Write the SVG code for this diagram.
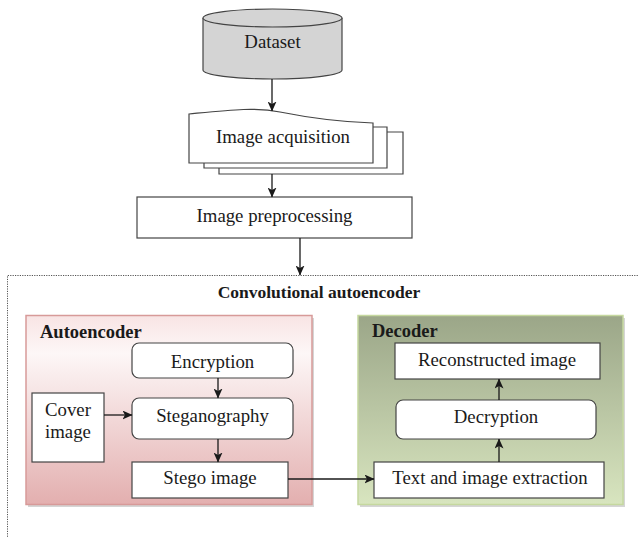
<svg xmlns="http://www.w3.org/2000/svg" width="639" height="537" viewBox="0 0 639 537">
<style>
text{font-family:"Liberation Serif","Times New Roman",serif;fill:#1a1a1a;text-anchor:middle}
.t{font-size:18.8px}
.b{font-size:18.5px;font-weight:bold}
.box{fill:#fff;stroke:#444;stroke-width:1.2}
.ln{fill:none;stroke:#1a1a1a;stroke-width:1.3}
</style>
<defs>
<marker id="ah" markerWidth="10" markerHeight="9" refX="9.5" refY="4.5" orient="auto" markerUnits="userSpaceOnUse">
<path d="M0,0 L10,4.5 L0,9 L2.5,4.5 Z" fill="#1a1a1a"/>
</marker>
<linearGradient id="pink" x1="0" y1="0" x2="0" y2="1">
<stop offset="0" stop-color="#f8e4e4"/>
<stop offset="0.2" stop-color="#fdf7f7"/>
<stop offset="1" stop-color="#e3afaf"/>
</linearGradient>
<linearGradient id="green" x1="0" y1="0" x2="0" y2="1">
<stop offset="0" stop-color="#9ba688"/>
<stop offset="1" stop-color="#d8e5bf"/>
</linearGradient>
</defs>

<g id="container">
<path d="M645,275.5 H7.5 V545" fill="none" stroke="#555" stroke-width="1" stroke-dasharray="1.2 1.2"/>
<text class="b" x="319" y="298" style="font-size:17.5px">Convolutional autoencoder</text>
</g>

<g id="autoencoder">
<rect x="28" y="318" width="286" height="189" fill="#b9b9b9" opacity="0.6"/>
<rect x="26" y="315.5" width="286" height="189" fill="url(#pink)" stroke="#d79a99" stroke-width="1.5"/>
<text class="b" x="40" y="338" style="text-anchor:start">Autoencoder</text>
</g>

<g id="decoder">
<rect x="360" y="318" width="265" height="189" fill="#b9b9b9" opacity="0.6"/>
<rect x="358" y="315.5" width="265" height="189" fill="url(#green)" stroke="#c5d89f" stroke-width="1.5"/>
<text class="b" x="372" y="337" style="text-anchor:start">Decoder</text>
</g>

<g id="dataset">
<path d="M203,18 V70 A69.5,9 0 0 0 342,70 V18" fill="#d4d4d4" stroke="#444" stroke-width="1.2"/>
<ellipse cx="272.5" cy="18" rx="69.5" ry="9" fill="#d4d4d4" stroke="#444" stroke-width="1.2"/>
<text class="t" x="272.5" y="48">Dataset</text>
</g>

<g id="image-acquisition">
<path d="M219,132 H403 V174 H219 Z" class="box"/>
<path d="M204,127 H387 V168 H204 Z" class="box"/>
<path d="M189,114 C230,110 255,107 280,112 C310,118 340,122 373,123 V163 H189 Z" class="box"/>
<text class="t" x="283" y="143">Image acquisition</text>
</g>

<g id="image-preprocessing">
<rect class="box" x="137" y="197" width="275" height="41"/>
<text class="t" x="274.5" y="222">Image preprocessing</text>
</g>

<g id="encryption">
<rect class="box" x="132" y="343" width="161" height="35" rx="7"/>
<text class="t" x="212.5" y="368">Encryption</text>
</g>

<g id="steganography">
<rect class="box" x="132" y="398" width="161" height="41" rx="7"/>
<text class="t" x="212.5" y="422">Steganography</text>
</g>

<g id="cover-image">
<rect class="box" x="32" y="393" width="72" height="69"/>
<text class="t" x="68" y="416">Cover</text>
<text class="t" x="68" y="438">image</text>
</g>

<g id="stego-image">
<rect class="box" x="132" y="462" width="156" height="36"/>
<text class="t" x="210" y="484">Stego image</text>
</g>

<g id="reconstructed-image">
<rect class="box" x="395" y="343" width="205" height="36"/>
<text class="t" x="497" y="366">Reconstructed image</text>
</g>

<g id="decryption">
<rect class="box" x="396" y="400" width="200" height="39" rx="7"/>
<text class="t" x="496" y="423">Decryption</text>
</g>

<g id="text-image-extraction">
<rect class="box" x="374" y="462" width="230" height="36"/>
<text class="t" x="490" y="484">Text and image extraction</text>
</g>

<g id="connectors">
<line class="ln" x1="272" y1="79" x2="272" y2="111" marker-end="url(#ah)"/>
<line class="ln" x1="272" y1="174" x2="272" y2="197" marker-end="url(#ah)"/>
<line class="ln" x1="300" y1="238" x2="300" y2="275" marker-end="url(#ah)"/>
<line class="ln" x1="218" y1="378" x2="218" y2="398" marker-end="url(#ah)"/>
<line class="ln" x1="104" y1="415" x2="132" y2="415" marker-end="url(#ah)"/>
<line class="ln" x1="218" y1="439" x2="218" y2="462" marker-end="url(#ah)"/>
<line class="ln" x1="288" y1="479" x2="374" y2="479" marker-end="url(#ah)"/>
<line class="ln" x1="499" y1="462" x2="499" y2="439" marker-end="url(#ah)"/>
<line class="ln" x1="499" y1="400" x2="499" y2="379" marker-end="url(#ah)"/>
</g>
</svg>
